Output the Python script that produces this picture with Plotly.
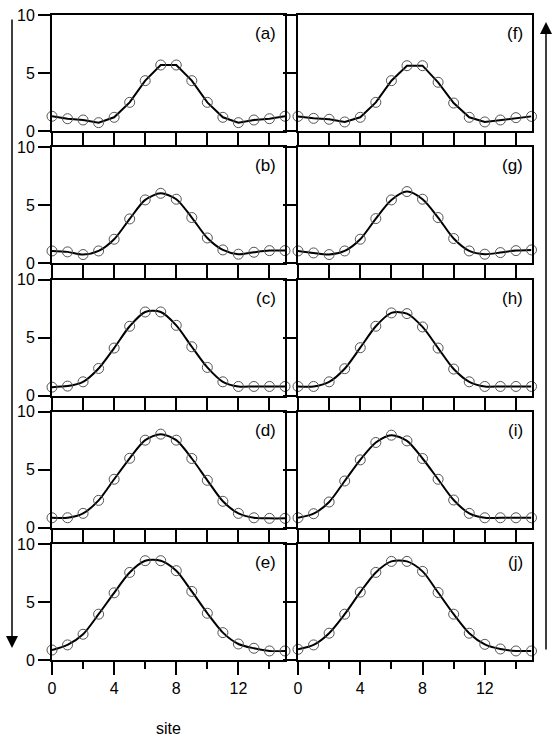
import plotly.graph_objects as go

sites = list(range(16))

a_vals = [1.27, 1.06, 0.95, 0.72, 1.18, 2.47, 4.34, 5.69, 5.69, 4.34, 2.47, 1.18, 0.72, 0.95, 1.06, 1.27]
b_vals = [1.06, 0.98, 0.75, 1.06, 2.07, 3.82, 5.46, 6.03, 5.52, 3.94, 2.18, 1.15, 0.78, 0.95, 1.09, 1.09]
c_vals = [0.72, 0.81, 1.18, 2.33, 4.09, 5.97, 7.20, 7.20, 6.05, 4.20, 2.42, 1.18, 0.78, 0.78, 0.78, 0.78]
d_vals = [0.86, 0.86, 1.24, 2.36, 4.18, 5.99, 7.55, 8.07, 7.55, 5.97, 4.09, 2.28, 1.24, 0.86, 0.81, 0.81]
e_vals = [0.86, 1.30, 2.22, 3.95, 5.79, 7.55, 8.56, 8.56, 7.70, 5.91, 4.03, 2.36, 1.38, 1.01, 0.78, 0.78]
f_vals = [1.26, 1.09, 1.01, 0.78, 1.18, 2.47, 4.34, 5.63, 5.63, 4.20, 2.41, 1.18, 0.78, 0.95, 1.15, 1.26]
g_vals = [1.06, 0.89, 0.75, 1.06, 2.07, 3.85, 5.46, 6.18, 5.52, 3.94, 2.13, 1.06, 0.78, 0.92, 1.09, 1.15]
h_vals = [0.78, 0.78, 1.18, 2.31, 4.12, 5.97, 7.12, 7.06, 5.91, 4.09, 2.28, 1.18, 0.78, 0.78, 0.78, 0.78]
i_vals = [0.86, 1.21, 2.22, 4.03, 5.85, 7.35, 7.98, 7.49, 5.97, 4.18, 2.39, 1.24, 0.86, 0.86, 0.86, 0.86]
j_vals = [0.92, 1.30, 2.31, 3.95, 5.85, 7.55, 8.50, 8.50, 7.64, 5.82, 3.95, 2.31, 1.35, 0.95, 0.78, 0.78]

panel_labels = ["(a)", "(b)", "(c)", "(d)", "(e)", "(f)", "(g)", "(h)", "(i)", "(j)"]
panel_data = [a_vals, b_vals, c_vals, d_vals, e_vals, f_vals, g_vals, h_vals, i_vals, j_vals]

x_major = [0, 4, 8, 12]
x_minor = [2, 6, 10, 14]
y_ticks = [0, 5, 10]

W, H = 552, 738
def fx(px):
    return px / W
def fy(py):
    return 1 - py / H

col_px = [(52, 285), (298, 531.5)]
row_top = [15 + i * 132.25 for i in range(5)]
row_h = 116

fig = go.Figure()
font = dict(family="Liberation Sans, Arial, sans-serif", size=16, color="black")
lab_font = dict(family="Liberation Sans, Arial, sans-serif", size=17, color="black")

layout = dict(
    width=W, height=H, margin=dict(l=0, r=0, t=0, b=0, autoexpand=False),
    paper_bgcolor="white", plot_bgcolor="white", showlegend=False,
    font=font,
)
annotations = []

for k in range(10):
    col = k // 5
    row = k % 5
    n = k + 1
    xa = "xaxis" if n == 1 else f"xaxis{n}"
    ya = "yaxis" if n == 1 else f"yaxis{n}"
    xref = "x" if n == 1 else f"x{n}"
    yref = "y" if n == 1 else f"y{n}"
    x0, x1 = col_px[col]
    top = row_top[row]
    bot = top + row_h
    shape = "linear" if row == 0 else "spline"
    fig.add_trace(go.Scatter(
        x=sites, y=panel_data[k], xaxis=xref, yaxis=yref,
        mode="lines+markers", cliponaxis=False,
        line=dict(color="black", width=2, shape=shape, smoothing=0.8),
        marker=dict(symbol="circle-open", size=10, color="#555", line=dict(width=1, color="#555")),
    ))
    layout[xa] = dict(
        domain=[fx(x0), fx(x1)], range=[0, 15], anchor=yref,
        showgrid=False, zeroline=False, automargin=False,
        showline=True, linecolor="black", linewidth=2,
        mirror=True if row == 0 else "allticks",
        ticks="outside", ticklen=13, tickwidth=2, tickcolor="black",
        tickvals=x_major, ticktext=[str(v) for v in x_major],
        showticklabels=(row == 4), tickfont=font,
        minor=dict(tickvals=x_minor, ticks="outside", ticklen=7, tickwidth=2, tickcolor="black"),
    )
    layout[ya] = dict(
        domain=[fy(bot), fy(top)], range=[0, 10], anchor=xref,
        showgrid=False, zeroline=False, automargin=False,
        showline=True, linecolor="black", linewidth=2, mirror=True,
        ticks="outside", ticklen=12 if col == 0 else 13, tickwidth=2, tickcolor="black",
        tickvals=y_ticks, ticktext=[str(v) for v in y_ticks],
        showticklabels=(col == 0), tickfont=font,
    )
    annotations.append(dict(
        text=panel_labels[k], xref="paper", yref="paper",
        x=fx(x1 - 7), y=fy(top + 7), xanchor="right", yanchor="top",
        showarrow=False, font=lab_font,
    ))

annotations.append(dict(
    text="site", xref="paper", yref="paper", x=fx(168), y=fy(728),
    xanchor="center", yanchor="middle", showarrow=False, font=font,
))
annotations.append(dict(
    text="", xref="paper", yref="paper", x=fx(12), y=fy(648),
    ax=0, ay=-630, axref="pixel", ayref="pixel",
    showarrow=True, arrowhead=2, arrowsize=1.6, arrowwidth=1.5, arrowcolor="black", standoff=0,
))
annotations.append(dict(
    text="", xref="paper", yref="paper", x=fx(546), y=fy(22),
    ax=0, ay=629, axref="pixel", ayref="pixel",
    showarrow=True, arrowhead=2, arrowsize=1.6, arrowwidth=1.5, arrowcolor="black", standoff=0,
))
layout["annotations"] = annotations
fig.update_layout(**layout)
fig.write_html("out.html")
